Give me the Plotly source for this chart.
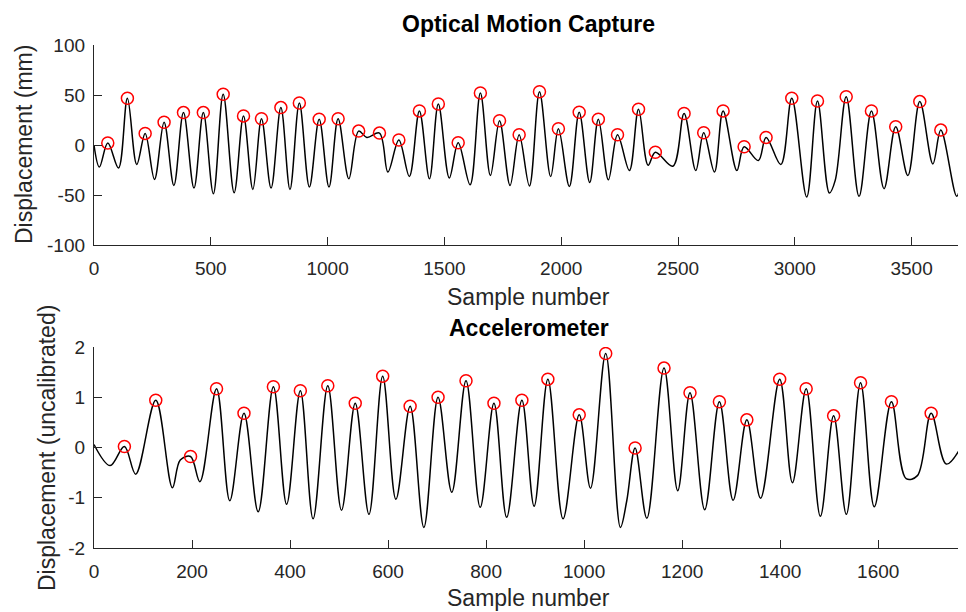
import plotly.graph_objects as go

# ---- Optical Motion Capture (top) : extrema of the trace ----
top_x = [0, 23, 59, 105, 143, 183, 219, 259, 300, 342, 383, 428, 468, 511, 553, 600,
         640, 680, 717, 758, 800, 839, 879, 922, 964, 1006, 1045, 1091, 1133, 1168,
         1222, 1258, 1305, 1350, 1393, 1436, 1474, 1521, 1559, 1610, 1654, 1697, 1736,
         1781, 1820, 1864, 1907, 1955, 1988, 2035, 2077, 2122, 2159, 2202, 2241, 2292,
         2331, 2372, 2403, 2478, 2526, 2576, 2610, 2656, 2693, 2752, 2783, 2844, 2877,
         2940, 2987, 3051, 3097, 3148, 3173, 3220, 3275, 3328, 3382, 3432, 3484, 3535,
         3591, 3625, 3693, 3719]
top_y = [0, -22, 2, -23, 46.7, -19.5, 11.6, -34.4, 22.8, -40.4, 32.4, -43, 32.4, -48.7,
         50.7, -47.7, 29.1, -44.4, 26.2, -43, 37.4, -44.4, 42, -42, 25.8, -42, 26.2,
         -33.8, 13.9, 7.6, 11.9, -27, 5, -31.5, 34.1, -33.8, 41, -33, 2.3, -39.7, 52,
         -30.5, 24.2, -40.4, 10.3, -41, 53.3, -31.5, 16.2, -41.4, 32.8, -37.4, 25.8,
         -34.8, 10.3, -25.5, 35.8, -20.2, -7.3, -21.2, 31.5, -25.5, 12.3, -27, 34.1,
         -25.5, -1.7, -15.6, 7.6, -19.5, 46.7, -52, 44, -48, -35.4, 48.3, -51.3, 34.1,
         -43.7, 18.2, -30.5, 43.4, -18.9, 14.9, -51.3, -11.6]
top_peak_x = [59, 143, 219, 300, 383, 468, 553, 640, 717, 800, 879, 964, 1045, 1133,
              1222, 1305, 1393, 1474, 1559, 1654, 1736, 1820, 1907, 1988, 2077, 2159,
              2241, 2331, 2403, 2526, 2610, 2693, 2783, 2877, 2987, 3097, 3220, 3328,
              3432, 3535, 3625]
top_peak_y = [2, 46.7, 11.6, 22.8, 32.4, 32.4, 50.7, 29.1, 26.2, 37.4, 42, 25.8, 26.2,
              13.9, 11.9, 5, 34.1, 41, 2.3, 52, 24.2, 10.3, 53.3, 16.2, 32.8, 25.8,
              10.3, 35.8, -7.3, 31.5, 12.3, 34.1, -1.7, 7.6, 46.7, 44, 48.3, 34.1,
              18.2, 43.4, 14.9]
top_xticks = [0, 500, 1000, 1500, 2000, 2500, 3000, 3500]
top_yticks = [-100, -50, 0, 50, 100]
top_ytick_text = ["-100", "-50", "0", "50", "100"]

# ---- Accelerometer (bottom) : extrema of the trace ----
bot_x = [0, 33, 62, 85, 126, 160, 176, 197, 216, 250, 277, 306, 335, 366, 393, 421,
         447, 477, 505, 533, 561, 589, 616, 645, 673, 702, 730, 759, 788, 816, 842,
         873, 898, 926, 957, 990, 1013, 1044, 1074, 1087, 1104, 1128, 1163, 1191,
         1216, 1246, 1276, 1304, 1332, 1360, 1399, 1425, 1453, 1482, 1509, 1535,
         1564, 1592, 1627, 1657, 1680, 1708, 1739, 1773]
bot_y = [0.06, -0.36, 0.02, -0.53, 0.94, -0.8, -0.25, -0.18, -0.68, 1.17, -1.06, 0.68,
         -1.28, 1.21, -1.13, 1.13, -1.42, 1.23, -1.25, 0.88, -1.33, 1.42, -1.03, 0.82,
         -1.59, 1.0, -0.89, 1.33, -1.19, 0.88, -1.39, 0.94, -1.17, 1.36, -1.42, 0.65,
         -0.81, 1.87, -1.59, -1.06, -0.01, -1.41, 1.58, -0.86, 1.09, -1.24, 0.91,
         -1.05, 0.55, -1.01, 1.36, -0.7, 1.17, -1.37, 0.63, -1.33, 1.29, -1.18, 0.91,
         -0.62, -0.56, 0.68, -0.33, 0.08]
bot_peak_x = [62, 126, 197, 250, 306, 366, 421, 477, 533, 589, 645, 702, 759, 816, 873,
              926, 990, 1044, 1104, 1163, 1216, 1276, 1332, 1399, 1453, 1509, 1564,
              1627, 1708]
bot_peak_y = [0.02, 0.94, -0.18, 1.17, 0.68, 1.21, 1.13, 1.23, 0.88, 1.42, 0.82, 1.0,
              1.33, 0.88, 0.94, 1.36, 0.65, 1.87, -0.01, 1.58, 1.09, 0.91, 0.55, 1.36,
              1.17, 0.63, 1.29, 0.91, 0.68]
bot_xticks = [0, 200, 400, 600, 800, 1000, 1200, 1400, 1600]
bot_yticks = [-2, -1, 0, 1, 2]
bot_ytick_text = ["-2", "-1", "0", "1", "2"]

titles = ["Optical Motion Capture", "Accelerometer"]
xlabels = ["Sample number", "Sample number"]
ylabels = ["Displacement (mm)", "Displacement (uncalibrated)"]

# page body has an 8px margin: figure sits at (8, 8) inside the 966x612 window
OFF = 8
W, H = 966 - OFF, 612 - OFF
FONT = "Liberation Sans, Arial, sans-serif"
GRAY = "#262626"


def px(x):
    return (x - OFF) / W


def py(y):
    return 1 - (y - OFF) / H


fig = go.Figure()
line_style = dict(color="black", width=1.5, shape="spline", smoothing=1.0)
mk = dict(symbol="circle-open", size=12, color="red", line=dict(color="red", width=1.5))

fig.add_trace(go.Scatter(x=top_x, y=top_y, mode="lines", line=line_style,
                         xaxis="x", yaxis="y", showlegend=False, hoverinfo="skip"))
fig.add_trace(go.Scatter(x=top_peak_x, y=top_peak_y, mode="markers", marker=mk,
                         xaxis="x", yaxis="y", showlegend=False))
fig.add_trace(go.Scatter(x=bot_x, y=bot_y, mode="lines", line=line_style,
                         xaxis="x2", yaxis="y2", showlegend=False, hoverinfo="skip"))
fig.add_trace(go.Scatter(x=bot_peak_x, y=bot_peak_y, mode="markers", marker=mk,
                         xaxis="x2", yaxis="y2", showlegend=False))

xd = [px(94), px(963)]
top_dom = [py(245), py(45)]
bot_dom = [py(548), py(347)]

ax_common = dict(showgrid=False, zeroline=False, showline=True, linecolor=GRAY,
                 linewidth=1.3, ticks="inside", ticklen=8, tickwidth=1.3,
                 tickcolor=GRAY, tickfont=dict(family=FONT, size=19, color=GRAY),
                 mirror=False, automargin=False)
xa = dict(ax_common, ticklabelstandoff=6)
ya = dict(ax_common, ticklabelstandoff=4)

fig.update_layout(
    width=W, height=H,
    margin=dict(l=0, r=0, t=0, b=0),
    paper_bgcolor="white", plot_bgcolor="white",
    xaxis=dict(domain=xd, anchor="y", range=[0, 3720], tickmode="array",
               tickvals=top_xticks, ticktext=[str(v) for v in top_xticks], **xa),
    yaxis=dict(domain=top_dom, anchor="x", range=[-100, 100], tickmode="array",
               tickvals=top_yticks, ticktext=top_ytick_text, **ya),
    xaxis2=dict(domain=xd, anchor="y2", range=[0, 1773], tickmode="array",
                tickvals=bot_xticks, ticktext=[str(v) for v in bot_xticks], **xa),
    yaxis2=dict(domain=bot_dom, anchor="x2", range=[-2, 2], tickmode="array",
                tickvals=bot_yticks, ticktext=bot_ytick_text, **ya),
)

cx = px((94 + 963) / 2)
ann = []
ann.append(dict(text="<b>" + titles[0] + "</b>", x=cx, y=py(24)))
ann.append(dict(text="<b>" + titles[1] + "</b>", x=cx, y=py(328)))
ann.append(dict(text=xlabels[0], x=cx, y=py(297)))
ann.append(dict(text=xlabels[1], x=cx, y=py(598)))
ann.append(dict(text=ylabels[0], x=px(24), y=py(145), textangle=-90))
ann.append(dict(text=ylabels[1], x=px(47), y=py(448), textangle=-90))
for i, a in enumerate(ann):
    col = "black" if i < 2 else GRAY
    fig.add_annotation(xref="paper", yref="paper", xanchor="center", yanchor="middle",
                       showarrow=False, font=dict(family=FONT, size=23, color=col), **a)

fig.write_html("out.html")
